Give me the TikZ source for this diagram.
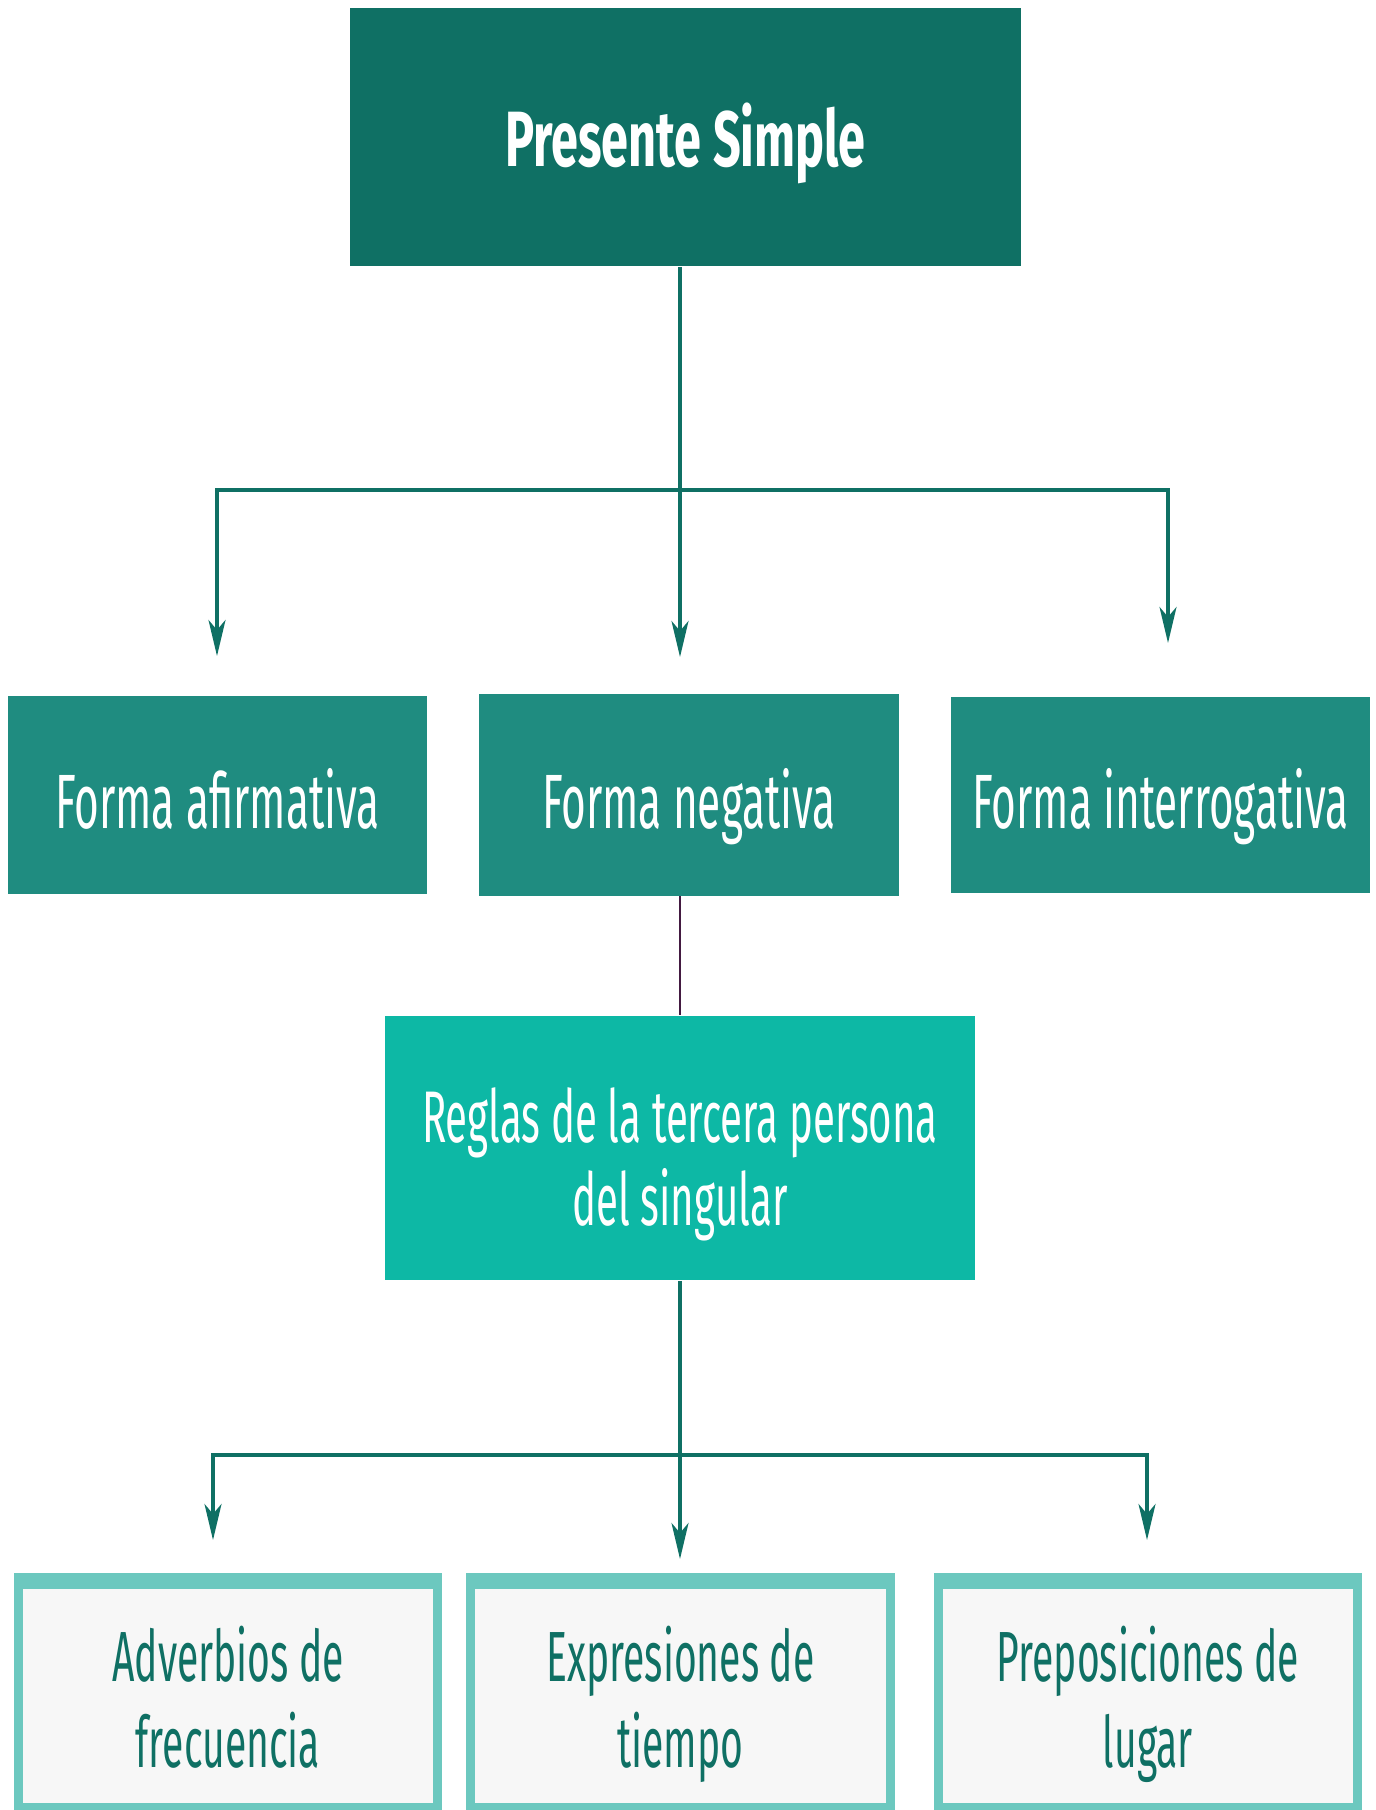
\documentclass[tikz,border=0pt]{standalone}
\usepackage{fontspec}
\setmainfont{Fira Sans}[FakeStretch=0.55]
\newfontfamily\headfont{Fira Sans}[FakeStretch=0.62]
\usetikzlibrary{arrows.meta}

\definecolor{headteal}{HTML}{0F7064}
\definecolor{formteal}{HTML}{1F8C80}
\definecolor{ruleteal}{HTML}{0DB8A5}
\definecolor{leafedge}{HTML}{6CC8BF}
\definecolor{leaffill}{HTML}{F7F7F7}
\definecolor{plum}{HTML}{431A41}

\tikzset{
  headbox/.style={fill=headteal,text=white,minimum width=6.71cm,minimum height=2.58cm,inner sep=0pt,
    font=\headfont\fontsize{22.3}{26}\selectfont\bfseries,text height=0.72cm,text depth=0.14cm},
  formbox/.style={fill=formteal,text=white,minimum width=4.19cm,minimum height=1.98cm,inner sep=0pt,
    font=\fontsize{21.9}{26}\selectfont,text height=0.8cm,text depth=0.14cm},
  rulebox/.style={fill=ruleteal,text=white,minimum width=5.9cm,minimum height=2.64cm,align=center,
    inner sep=0pt,font=\fontsize{20.8}{23.6}\selectfont,text height=2.0cm,text depth=0.46cm},
  leafbox/.style={fill=leafedge,text=headteal,minimum width=4.28cm,minimum height=2.39cm,align=center,
    inner sep=0pt,font=\fontsize{20.2}{24.2}\selectfont,text height=1.8cm,text depth=0.31cm,
    path picture={\fill[leaffill] ([xshift=0.09cm,yshift=0.09cm]path picture bounding box.south west)
      rectangle ([xshift=-0.09cm,yshift=-0.16cm]path picture bounding box.north east);}},
  link/.style={draw=headteal,line width=0.9pt},
  arr/.style={link,-{Stealth[length=0.36cm,width=0.17cm,inset=0.1cm]}}
}

\begin{document}
\begin{tikzpicture}[x=0.01cm,y=-0.01cm]
\useasboundingbox (0,0) rectangle (1375,1810);

% titulo
\node[headbox] (pres) at (685.5,137) {Presente Simple};

% formas
\node[formbox] (afir) at (217.5,795) {Forma afirmativa};
\node[formbox,minimum height=2.01cm] (neg) at (689,795) {Forma negativa};
\node[formbox,minimum height=1.96cm] (inter) at (1160.5,795) {Forma interrogativa};

\node[rulebox] (regl) at (680,1148) {Reglas de la tercera persona\\del singular};

\node[leafbox] (adv) at (228,1692.5) {Adverbios de\\frecuencia};
\node[leafbox] (expr) at (680.5,1692.5) {Expresiones de\\tiempo};
\node[leafbox] (prep) at (1148,1692.5) {Preposiciones de\\lugar};

% primera division
\coordinate (s1) at (680,490);
\coordinate (a1) at (217,656);
\coordinate (a2) at (680,657);
\coordinate (a3) at (1168,643);
\draw[arr] (pres.south -| s1) -- (a2);
\draw[arr] (s1) -| (a1);
\draw[arr] (s1) -| (a3);

\draw[plum,line width=0.8pt] (neg.south -| regl) -- (regl.north);

% segunda division
\coordinate (s2) at (680,1455);
\coordinate (b1) at (213,1540);
\coordinate (b2) at (680,1559);
\coordinate (b3) at (1147,1540);
\draw[arr] (regl.south) -- (b2);
\draw[arr] (s2) -| (b1);
\draw[arr] (s2) -| (b3);

\end{tikzpicture}
\end{document}
